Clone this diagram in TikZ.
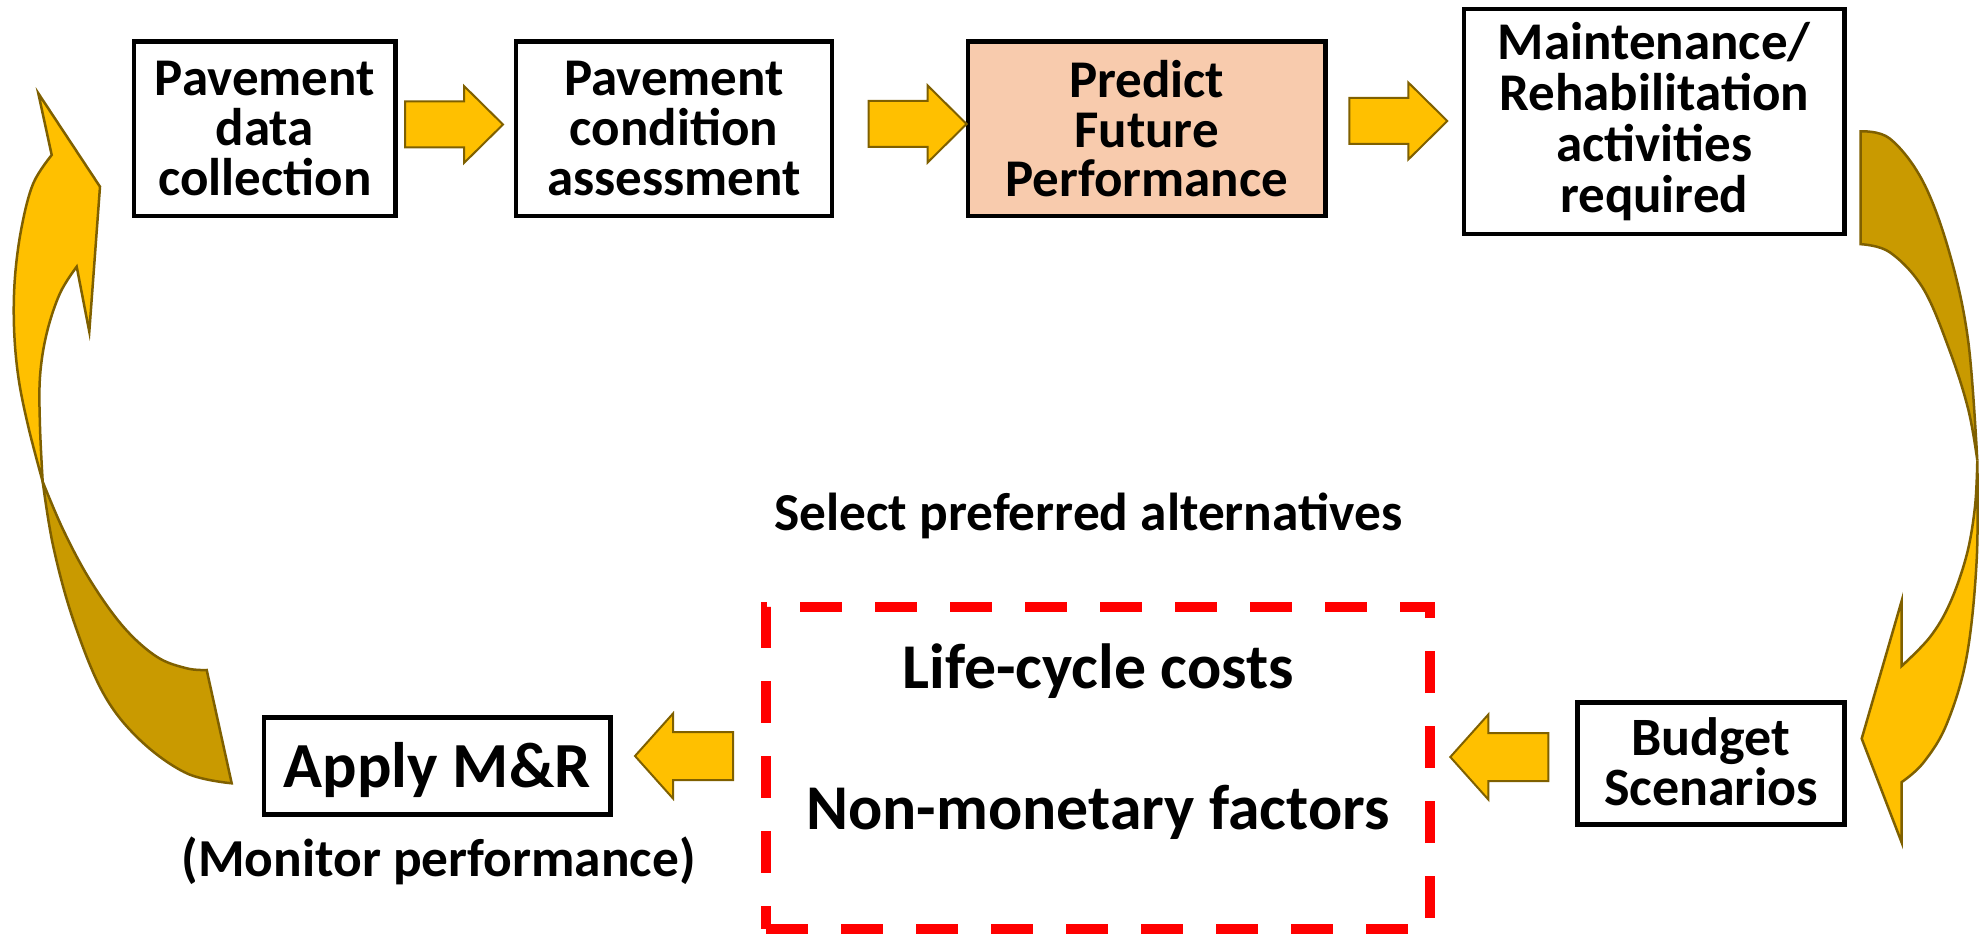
\documentclass[tikz,border=0pt]{standalone}
\usepackage{fontspec}
\setmainfont{Carlito}
\definecolor{gold}{HTML}{FFC000}
\definecolor{darkgold}{HTML}{C99A00}
\definecolor{arrline}{HTML}{7F6000}
\definecolor{peach}{HTML}{F8CBAD}
\definecolor{dashred}{HTML}{FF0000}
\begin{document}
\begin{tikzpicture}[x=1pt,y=-1pt,
  box/.style={draw=black,line width=4.5pt,align=center,inner sep=0pt,
    font=\fontsize{53}{49.8}\selectfont\bfseries},
  blk/.style={draw=arrline,fill=gold,line width=2pt,line join=miter},
  blkdark/.style={draw=arrline,fill=darkgold,line width=2.5pt,line join=miter},
  blklight/.style={draw=arrline,fill=gold,line width=2.5pt,line join=miter},
  rarrow/.pic={\path[blk] (-49,-23) -- (10,-23) -- (10,-38.5) -- (49,0) -- (10,38.5) -- (10,23) -- (-49,23) -- cycle;},
  larrow/.pic={\path[blk] (49,-24) -- (-11,-24) -- (-11,-42.5) -- (-49,0) -- (-11,42.5) -- (-11,24) -- (49,24) -- cycle;},
  bigtxt/.style={font=\fontsize{63.8}{63.8}\selectfont\bfseries,inner sep=0pt,anchor=base},
  midtxt/.style={font=\fontsize{53.4}{53.4}\selectfont\bfseries,inner sep=0pt,anchor=base}
]
\useasboundingbox (0,0) rectangle (1979,939);

% top boxes
\node[box,minimum width=261.7pt,minimum height=174.3pt] (b1) at (264.85,128.65) {Pavement\\data\\collection};
\node[box,minimum width=316pt,minimum height=174.3pt] (b2) at (674,128.65) {Pavement\\condition\\assessment};
\node[box,fill=peach,minimum width=357.6pt,minimum height=174.3pt] (b3) at (1146.6,128.65) {Predict\\Future\\Performance};
\node[box,font=\fontsize{53}{51.2}\selectfont\bfseries,minimum width=380.4pt,minimum height=225.1pt] (b4) at (1654.2,121.5) {Maintenance/\\Rehabilitation\\activities\\required};

% bottom boxes
\node[box,font=\fontsize{54}{50}\selectfont\bfseries,text depth=4.8pt,minimum width=267.4pt,minimum height=122.4pt] (b5) at (1711,763.5) {Budget\\Scenarios};
\node[draw=dashred,line width=10pt,dash pattern=on 42pt off 33pt,minimum width=664pt,minimum height=322.5pt,inner sep=0pt] (b6) at (1098,767.75) {};
\node[box,font=\fontsize{64.3}{64.3}\selectfont\bfseries,text height=60pt,text depth=16.7pt,minimum width=346.4pt,minimum height=97.1pt] (b7) at (437.2,765.85) {Apply M\&R};

% texts
\node[midtxt] (sel) at (1088.6,530) {Select preferred alternatives};
\node[bigtxt] (lcc) at (1098,688) {Life-cycle costs};
\node[bigtxt] (nmf) at (1098,829) {Non-monetary factors};
\node[midtxt] (mon) at (438.6,876) {(Monitor performance)};

% straight block arrows
\pic at (454,124.5) {rarrow};
\pic at (917.6,124) {rarrow};
\pic at (1398.3,121) {rarrow};
\pic at (1499.3,757) {larrow};
\pic at (684,756) {larrow};

% left curved arrow
\path[blkdark] plot[smooth,tension=0.6] coordinates {(42.7,481.7) (53.3,546.7) (73.3,620) (103.3,693.3) (140,740) (186.7,773.3) (231.7,783.3)}
  -- (206.7,670) -- plot[smooth,tension=0.6] coordinates {(206.7,670) (186.7,668.3) (156.7,656.7) (123.3,626.7) (90,580) (63.3,530) (42.7,481.7)} -- cycle;
\path[blklight] plot[smooth,tension=0.6] coordinates {(42.7,481.7) (28.3,426.7) (18.3,376.7) (14,326.7) (15,276.7) (21.7,226.7) (33.3,183.3) (51.7,155)}
  -- (38.3,93.3) -- (100,186.7) -- (89.3,331.7) -- (76.7,266.7)
  -- plot[smooth,tension=0.6] coordinates {(76.7,266.7) (60,293.3) (46.7,333.3) (40,376.7) (40,426.7) (42.7,481.7)} -- cycle;

% right curved arrow
\path[blkdark] plot[smooth,tension=0.6] coordinates {(1860.7,131.4) (1890,138.7) (1923.3,182.2) (1950,254.8) (1968.3,341.9) (1977.3,460.4)}
  -- plot[smooth,tension=0.6] coordinates {(1977.3,460.4) (1968.3,409.6) (1950,351.6) (1923.3,288.7) (1890,252.4) (1860.7,244.2)} -- cycle;
\path[blklight] plot[smooth,tension=0.6] coordinates {(1977.3,460.4) (1976.7,559.6) (1966.7,656.4) (1946.7,724) (1923.3,762.8) (1901.7,782.1)}
  -- (1901.7,842.6) -- (1861.7,738.6) -- (1901.7,600.7) -- (1901.7,666)
  -- plot[smooth,tension=0.6] coordinates {(1901.7,666) (1930,637) (1950,603) (1966.7,554.8) (1975,506.4) (1977.3,460.4)} -- cycle;
\end{tikzpicture}
\end{document}
